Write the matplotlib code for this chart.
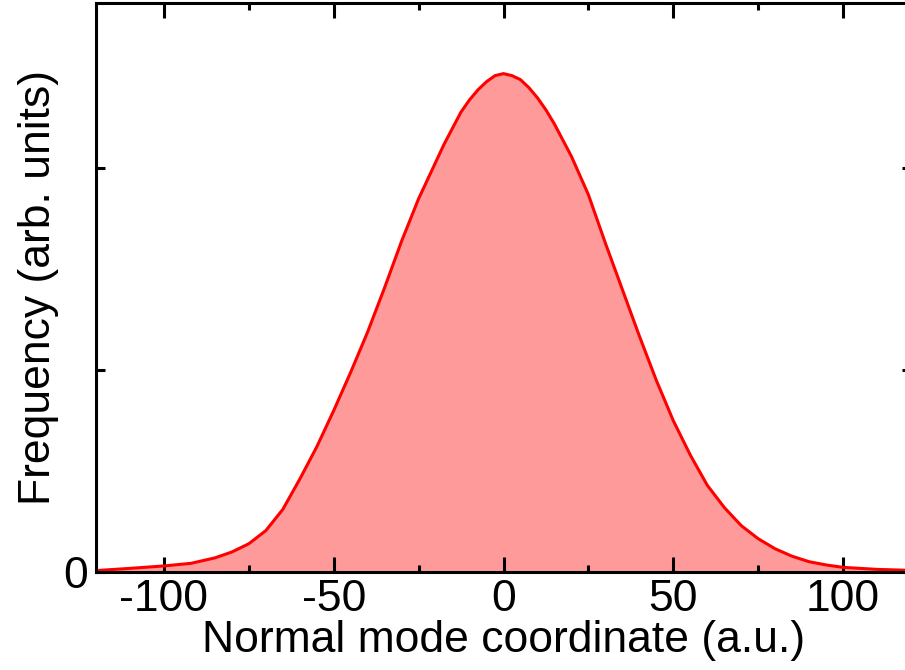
import matplotlib
matplotlib.use("Agg")
import matplotlib.pyplot as plt
from matplotlib.ticker import MultipleLocator, FixedLocator

plt.rcParams['font.family'] = ['Liberation Sans', 'DejaVu Sans']

# Normal mode coordinate (a.u.)
coord = [-120, -110, -100, -92, -85, -80, -75, -70, -65, -60, -55, -50, -45, -40, -35,
         -30, -25, -20, -17.5, -15, -12.5, -10, -7.5, -5, -2.5, 0, 2.5, 5, 7.5, 10,
         12.5, 15, 17.5, 20, 25, 30, 35, 40, 45, 50, 55,
         60, 65, 70, 75, 80, 85, 90, 95, 100, 110, 120]
# Frequency (arb. units)
freq = [0.007, 0.018, 0.030, 0.043, 0.070, 0.099, 0.14, 0.205, 0.31, 0.46, 0.62, 0.80,
        0.99, 1.19, 1.41, 1.64, 1.85, 2.03, 2.12, 2.20, 2.28, 2.34, 2.39, 2.43, 2.46,
        2.47, 2.46, 2.44, 2.40, 2.35, 2.29, 2.22, 2.14, 2.06, 1.87, 1.63, 1.40, 1.17,
        0.95, 0.75, 0.58, 0.43, 0.32, 0.23, 0.165, 0.115, 0.078, 0.051, 0.035, 0.023,
        0.013, 0.008]

xticks_major = [-100, -50, 0, 50, 100]
xtick_labels = ["-100", "-50", "0", "50", "100"]
yticks = [0, 1, 2]
ytick_labels = ["0", "", ""]

W, H = 905, 670
FS = 32
fig = plt.figure(figsize=(W / 100, H / 100), dpi=100)
ax = fig.add_axes([96 / W, 1 - 572 / H, 815 / W, (572 - 3) / H])

ax.fill_between(coord, freq, 0, color="#ff9a9a", lw=0)
ax.plot(coord, freq, color="#ff0000", lw=2.2, solid_joinstyle="round")

ax.set_xlim(-120, 120)
ax.set_ylim(0, 2.82)
ax.xaxis.set_major_locator(FixedLocator(xticks_major))
ax.set_xticklabels(xtick_labels)
ax.xaxis.set_minor_locator(MultipleLocator(25))
ax.set_yticks(yticks)
ax.set_yticklabels(ytick_labels)

for s in ax.spines.values():
    s.set_linewidth(2.2)
ax.tick_params(axis='x', which='major', direction='in', length=10.5, width=2.2,
               top=True, bottom=True, labelsize=FS, pad=5)
ax.tick_params(axis='x', which='minor', direction='in', length=5, width=2.2,
               top=True, bottom=True)
ax.tick_params(axis='y', which='major', direction='in', length=6.5, width=2.2,
               left=True, right=True, labelsize=FS, pad=6)

ax.set_xlabel("Normal mode coordinate (a.u.)", fontsize=FS, labelpad=0)
ax.set_ylabel("Frequency (arb. units)", fontsize=FS, labelpad=3)

fig.savefig("out.png", dpi=100)
